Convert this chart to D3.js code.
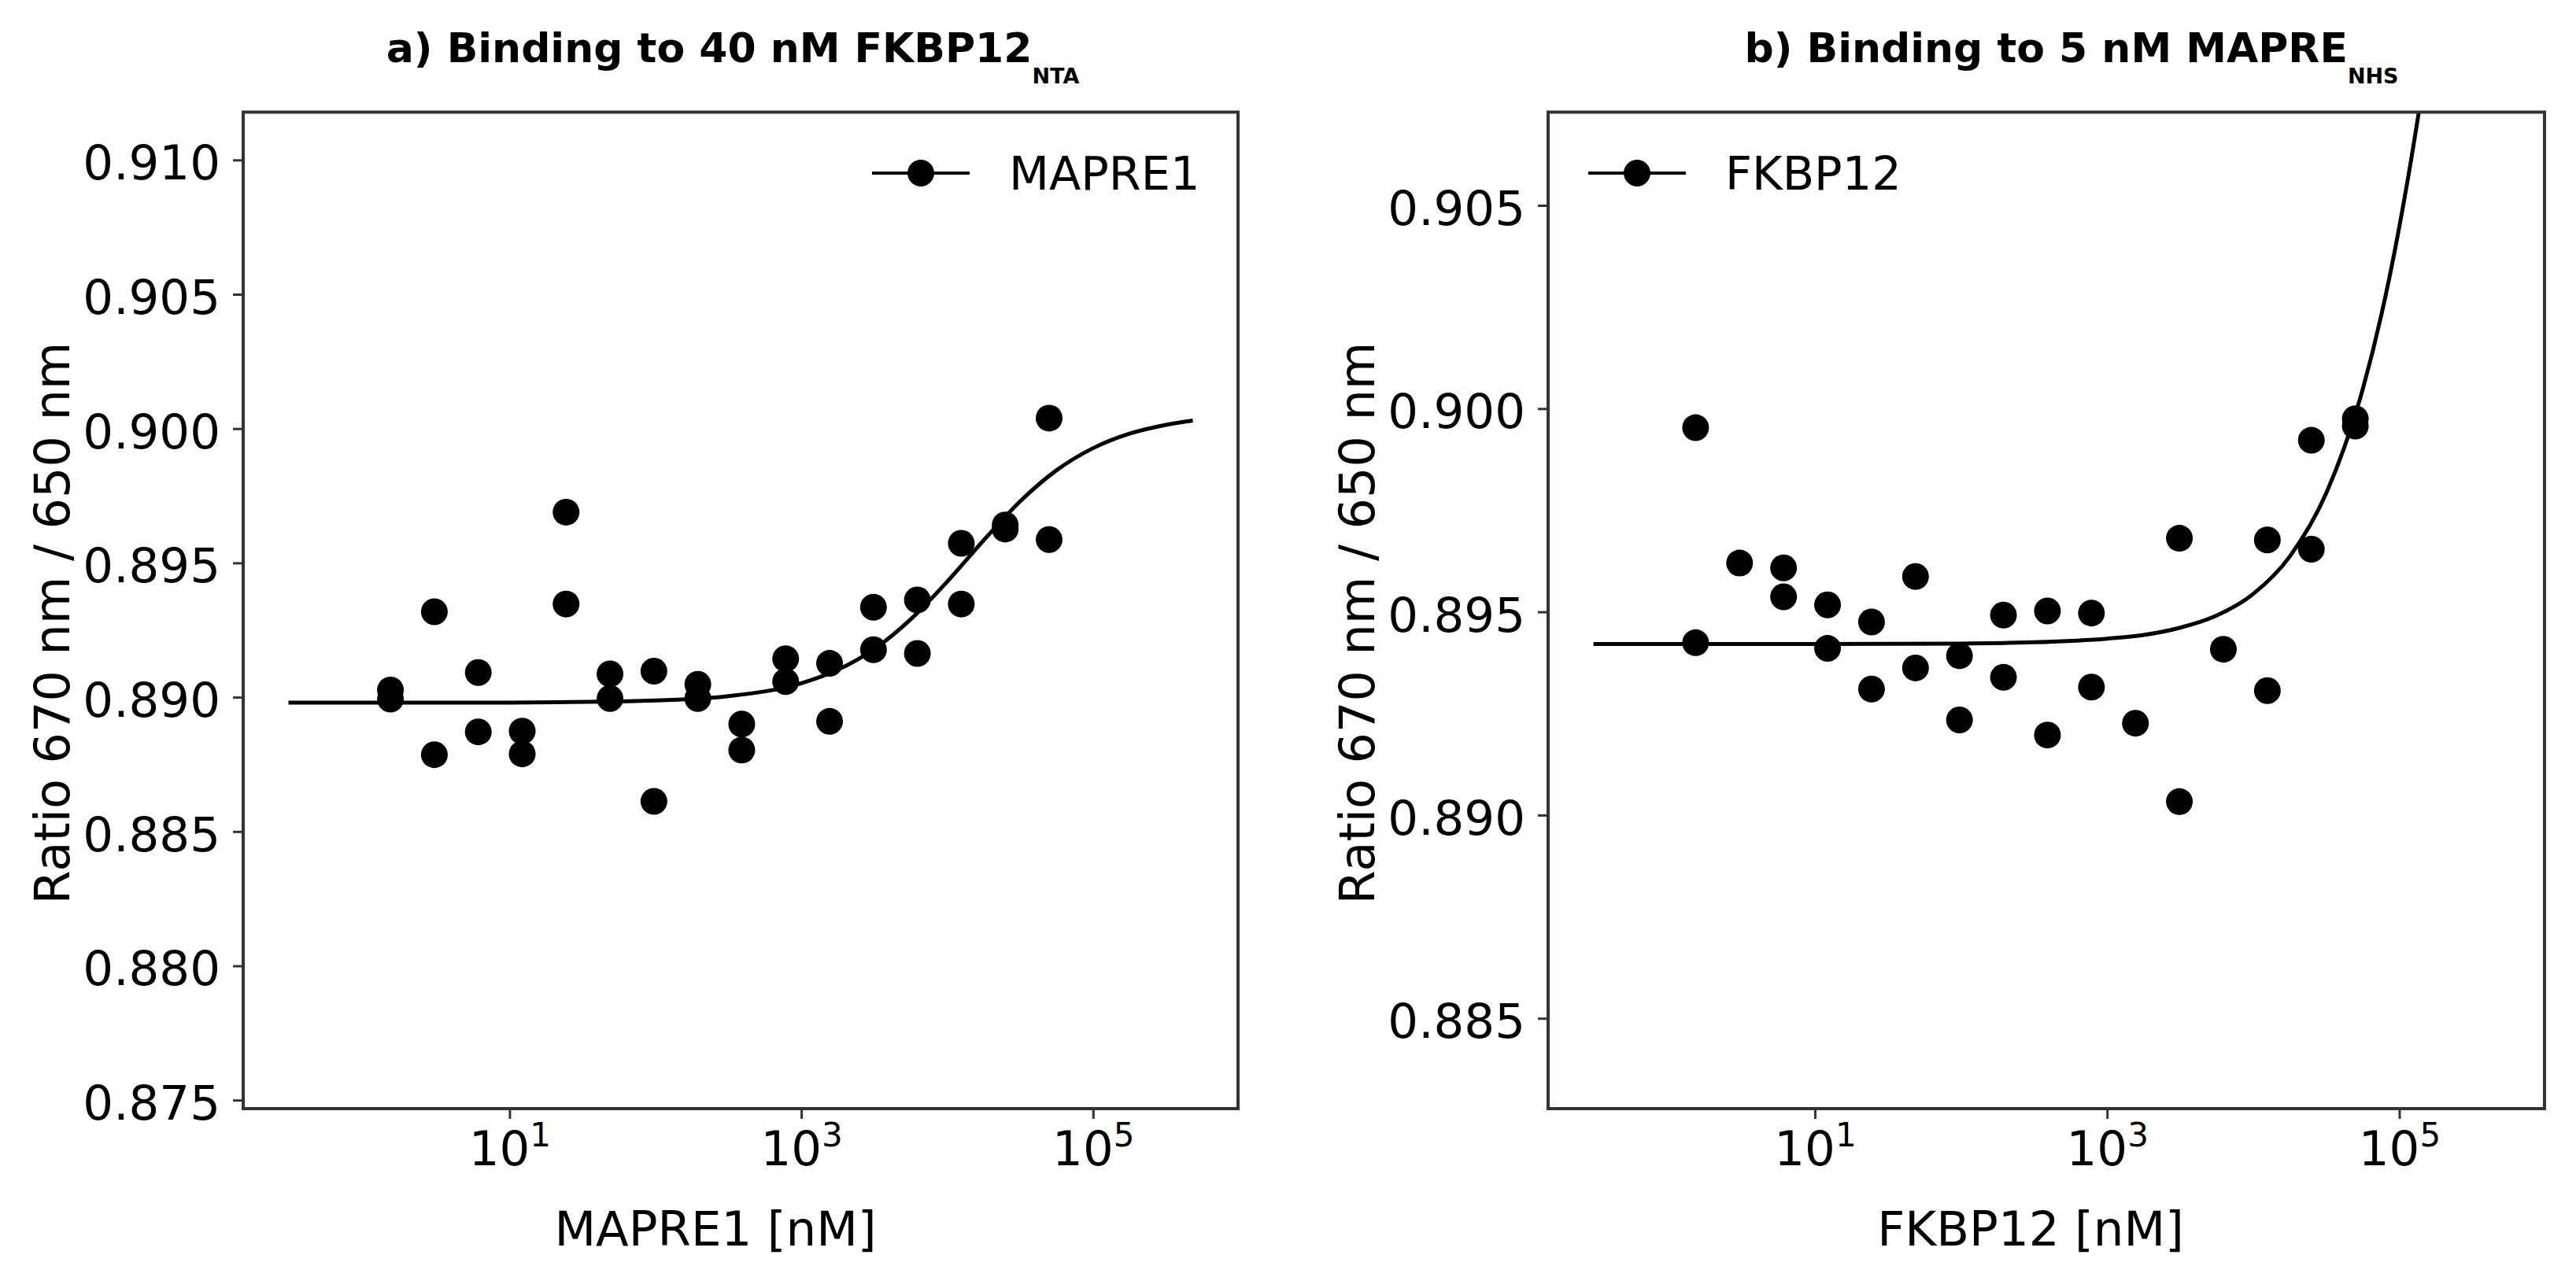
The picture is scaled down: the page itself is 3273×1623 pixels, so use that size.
<!DOCTYPE html>
<html>
<head>
<meta charset="utf-8">
<script src="https://cdn.jsdelivr.net/npm/d3@7"></script>
<style>
  body { margin: 0; background: #fff; }
  svg { display: block; }
  text { font-family: "DejaVu Sans", sans-serif; fill: #000; }
</style>
</head>
<body>
<svg id="chart" width="3273" height="1623"></svg>
<script>
// ---------------- DATA ----------------
// Titration concentrations [nM]
const concentrations = [1.526, 3.052, 6.104, 12.21, 24.41, 48.83, 97.66, 195.3, 390.6, 781.3, 1563, 3125, 6250, 12500, 25000, 50000];

// Panel a) MAPRE1 binding to 40 nM FKBP12_NTA (two replicates)
const mapre1Rep1 = [0.89027, 0.89318, 0.89092, 0.88874, 0.89689, 0.89087, 0.89097, 0.89048, 0.88900, 0.89143, 0.89126, 0.89335, 0.89362, 0.89573, 0.89641, 0.90039];
const mapre1Rep2 = [0.88993, 0.88786, 0.88871, 0.88789, 0.89347, 0.88995, 0.88612, 0.88995, 0.88803, 0.89058, 0.88910, 0.89177, 0.89163, 0.89347, 0.89626, 0.89587];
// Fitted curve
const mapre1FitX = [0.305, 1, 10, 100, 316, 1000, 1778, 3162, 5623, 10000, 17783, 31623, 56234, 100000, 177828, 316228, 483000];
const mapre1FitY = [0.8898, 0.8898, 0.8898, 0.88988, 0.89004, 0.89052, 0.89102, 0.89179, 0.89290, 0.89430, 0.89584, 0.89729, 0.89845, 0.89927, 0.89981, 0.90014, 0.90030];

// Panel b) FKBP12 binding to 5 nM MAPRE_NHS (two replicates, some missing)
const fkbp12Rep1 = [0.89953, 0.89620, 0.89608, 0.89517, 0.89475, 0.89587, 0.89392, 0.89492, 0.89502, 0.89497, 0.89226, 0.89681, 0.89408, 0.89677, 0.89922, 0.89975];
const fkbp12Rep2 = [0.89424, null, 0.89537, 0.89410, 0.89310, 0.89362, 0.89234, 0.89339, 0.89197, 0.89315, null, 0.89033, null, 0.89306, 0.89654, 0.89957];
const fkbp12FitX = [0.305, 1, 10, 100, 316, 1000, 1778, 3162, 5623, 10000, 17783, 31623, 56234, 75000, 100000, 133352, 177828];
const fkbp12FitY = [0.89421, 0.89421, 0.89421, 0.89422, 0.89425, 0.89434, 0.89443, 0.89461, 0.89491, 0.89544, 0.89636, 0.89792, 0.90048, 0.90227, 0.90447, 0.90710, 0.91017];

// Tick values / labels
const xTickValues = [10, 1000, 100000];
const xTickExponents = ["1", "3", "5"];
const yTicksA = [0.875, 0.880, 0.885, 0.890, 0.895, 0.900, 0.905, 0.910];
const yTicksB = [0.885, 0.890, 0.895, 0.900, 0.905];

// ---------------- DRAWING ----------------
const W = 3273, H = 1623;
const svg = d3.select("#chart");
svg.append("rect").attr("width", W).attr("height", H).attr("fill", "#fff");

const AX = "#333";

function panel(cfg) {
  const x = d3.scaleLog().domain(cfg.xDomain).range([cfg.left, cfg.right]);
  const y = d3.scaleLinear().domain(cfg.yDomain).range([cfg.bottom, cfg.top]);
  const g = svg.append("g");

  const clipId = "clip-" + cfg.id;
  svg.append("defs").append("clipPath").attr("id", clipId)
    .append("rect")
    .attr("x", cfg.left).attr("y", cfg.top)
    .attr("width", cfg.right - cfg.left).attr("height", cfg.bottom - cfg.top);

  // fitted curve
  const fit = cfg.fitX.map((v, i) => [v, cfg.fitY[i]]);
  g.append("path")
    .attr("clip-path", `url(#${clipId})`)
    .attr("d", d3.line().x(d => x(d[0])).y(d => y(d[1])).curve(d3.curveMonotoneX)(fit))
    .attr("fill", "none").attr("stroke", "#000").attr("stroke-width", 5);

  // points
  const pts = [];
  concentrations.forEach((c, i) => {
    if (cfg.rep1[i] != null) pts.push([c, cfg.rep1[i]]);
    if (cfg.rep2[i] != null) pts.push([c, cfg.rep2[i]]);
  });
  g.append("g").attr("clip-path", `url(#${clipId})`)
    .selectAll("circle").data(pts).join("circle")
    .attr("cx", d => x(d[0])).attr("cy", d => y(d[1])).attr("r", 17).attr("fill", "#000");

  // y axis
  const ya = g.append("g").attr("transform", `translate(${cfg.left},0)`)
    .call(d3.axisLeft(y).tickValues(cfg.yTicks).tickSize(13).tickSizeOuter(0).tickPadding(16).tickFormat(d3.format(".3f")));
  ya.select(".domain").remove();
  ya.selectAll(".tick line").attr("stroke", AX).attr("stroke-width", 3);
  ya.selectAll(".tick text").attr("font-size", 61).attr("dy", "0.4em")
    .attr("font-family", "DejaVu Sans, sans-serif").attr("fill", "#000");

  // x axis
  const xa = g.append("g").attr("transform", `translate(0,${cfg.bottom})`)
    .call(d3.axisBottom(x).tickValues(xTickValues).tickSize(13).tickSizeOuter(0).tickFormat(() => ""));
  xa.select(".domain").remove();
  xa.selectAll(".tick line").attr("stroke", AX).attr("stroke-width", 3);
  xa.selectAll(".tick text").remove();
  xa.selectAll(".tick").each(function (d, i) {
    const t = d3.select(this).append("text")
      .attr("y", 72).attr("text-anchor", "middle")
      .attr("font-family", "DejaVu Sans, sans-serif").attr("fill", "#000");
    t.append("tspan").attr("font-size", 61).text("10");
    t.append("tspan").attr("font-size", 42).attr("dy", -24).text(xTickExponents[i]);
  });

  // frame
  g.append("rect")
    .attr("x", cfg.left).attr("y", cfg.top)
    .attr("width", cfg.right - cfg.left).attr("height", cfg.bottom - cfg.top)
    .attr("fill", "none").attr("stroke", AX).attr("stroke-width", 4);

  // title
  const tt = g.append("text")
    .attr("x", cfg.titleCx).attr("y", 79).attr("text-anchor", "middle")
    .attr("font-weight", "bold").attr("font-size", 52);
  tt.append("tspan").text(cfg.title);
  tt.append("tspan").attr("font-size", 27).attr("dy", 27).text(cfg.titleSub);

  // axis labels
  g.append("text").attr("x", cfg.xLabelCx).attr("y", 1583)
    .attr("text-anchor", "middle").attr("font-size", 61).text(cfg.xLabel);
  g.append("text")
    .attr("transform", `translate(${cfg.yLabelX},${cfg.yLabelCy}) rotate(-90)`)
    .attr("text-anchor", "middle").attr("font-size", 62).text("Ratio 670 nm / 650 nm");

  // legend
  const lg = g.append("g");
  lg.append("line").attr("x1", cfg.legendX).attr("x2", cfg.legendX + 124)
    .attr("y1", 220).attr("y2", 220).attr("stroke", "#000").attr("stroke-width", 4);
  lg.append("circle").attr("cx", cfg.legendX + 62).attr("cy", 220).attr("r", 17).attr("fill", "#000");
  lg.append("text").attr("x", cfg.legendX + 174).attr("y", 241).attr("font-size", 59).text(cfg.legendLabel);
}

panel({
  id: "a",
  left: 309, right: 1573, top: 142.5, bottom: 1409,
  xDomain: [Math.pow(10, -0.826), Math.pow(10, 5.994)],
  yDomain: [0.874684, 0.911781],
  yTicks: yTicksA,
  rep1: mapre1Rep1, rep2: mapre1Rep2,
  fitX: mapre1FitX, fitY: mapre1FitY,
  title: "a) Binding to 40 nM FKBP12", titleSub: "NTA", titleCx: 931,
  xLabel: "MAPRE1 [nM]", xLabelCx: 909,
  yLabelX: 88, yLabelCy: 792,
  legendX: 1108, legendLabel: "MAPRE1"
});

panel({
  id: "b",
  left: 1967, right: 3233, top: 142.5, bottom: 1409,
  xDomain: [Math.pow(10, -0.826), Math.pow(10, 5.994)],
  yDomain: [0.882778, 0.907294],
  yTicks: yTicksB,
  rep1: fkbp12Rep1, rep2: fkbp12Rep2,
  fitX: fkbp12FitX, fitY: fkbp12FitY,
  title: "b) Binding to 5 nM MAPRE", titleSub: "NHS", titleCx: 2632,
  xLabel: "FKBP12 [nM]", xLabelCx: 2580,
  yLabelX: 1746, yLabelCy: 792,
  legendX: 2018, legendLabel: "FKBP12"
});
</script>
</body>
</html>
